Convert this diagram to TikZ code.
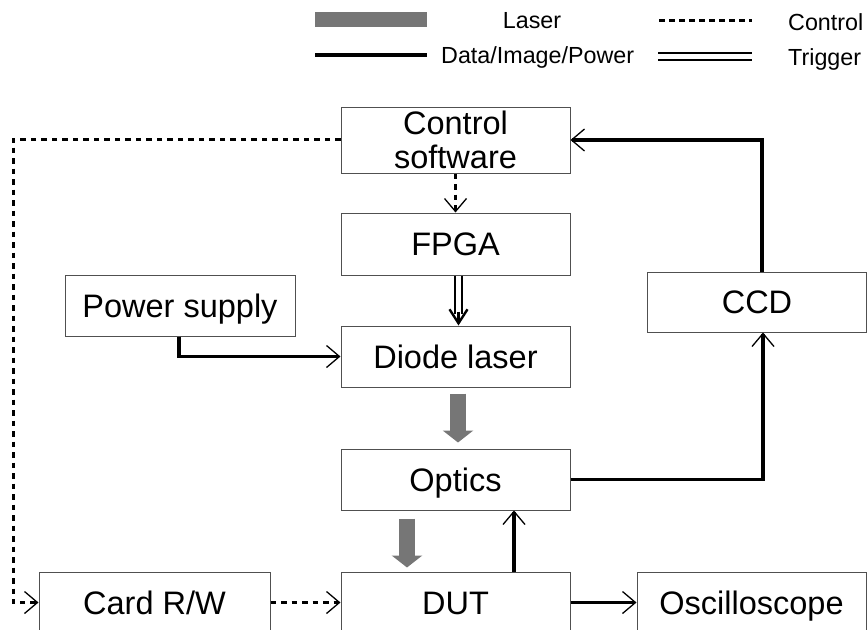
\documentclass[tikz,border=0pt]{standalone}
\usepackage{fontspec}
\setmainfont{Liberation Sans}
\usetikzlibrary{arrows.meta,calc}
\definecolor{lasergray}{HTML}{767676}
\definecolor{boxgray}{HTML}{505050}
\tikzset{
  blk/.style={draw=boxgray, line width=1pt, minimum height=61pt, inner sep=0pt,
    font=\fontsize{32.5}{34}\selectfont, align=center},
  oneline/.style={text height=23.5pt, text depth=0pt},
  openarr/.style={-{Straight Barb[length=13pt,width=22pt,line width=1.3pt]}},
  dataln/.style={line width=3.2pt, openarr},
  ctrlln/.style={line width=3pt, dash pattern=on 5.5pt off 5pt, openarr},
  laser/.style={line width=16pt, lasergray, -{Triangle[length=12pt,width=30pt]}},
  legtxt/.style={font=\fontsize{23.3}{25}\selectfont, inner sep=0pt, text height=16.7pt, text depth=0pt}
}
\begin{document}
\begin{tikzpicture}[x=1pt,y=-1pt]
\useasboundingbox (0,0) rectangle (867,629);
% legend
\fill[lasergray] (315,12) rectangle (427,27);
\node[legtxt] (lgl) at (532,20) {Laser};
\draw[line width=3.2pt] (315,55) -- (427,55);
\node[legtxt, anchor=west] (lgd) at (441,55.5) {Data/Image/Power};
\draw[line width=3pt, dash pattern=on 5.5pt off 4.5pt] (659,20) -- (752,20);
\node[legtxt, anchor=west] (lgc) at (788,22) {Control};
\draw[line width=2.8pt] (658,53) -- (752,53);
\draw[line width=2.8pt] (658,60) -- (752,60);
\node[legtxt, anchor=west] (lgt) at (788,57) {Trigger};
% boxes
\node[blk, minimum width=229pt, minimum height=66pt] (ctrl) at (455.5,140) {Control\\software};
\node[blk, oneline, minimum width=229pt, minimum height=62pt] (fpga) at (455.5,244) {FPGA};
\node[blk, oneline, minimum width=229pt] (diode) at (455.5,356.5) {Diode laser};
\node[blk, oneline, minimum width=229pt] (optics) at (455.5,479.5) {Optics};
\node[blk, oneline, minimum width=229pt] (dut) at (455.5,602.5) {DUT};
\node[blk, oneline, minimum width=231pt] (card) at (154.5,602.5) {Card R/W};
\node[blk, oneline, minimum width=229pt] (osc) at (751.5,602.5) {Oscilloscope};
\node[blk, oneline, minimum width=230pt] (power) at (180,305.5) {Power supply};
\node[blk, oneline, minimum width=219pt, minimum height=60pt] (ccd) at (757,302) {CCD};
\coordinate (lft) at (13,139);
% connectors
\draw[ctrlln] (ctrl.west |- lft) -- (lft) |- (card.west);
\draw[ctrlln] (ctrl.south) -- (fpga.north);
\draw[line width=2.4pt] ($(fpga.south)+(-0.5,0)$) -- ($(diode.north)+(-0.5,-12)$);
\draw[line width=2.4pt] ($(fpga.south)+(6.5,0)$) -- ($(diode.north)+(6.5,-12)$);
\draw[line width=2.4pt, -{Straight Barb[length=14pt,width=18pt,line width=2.4pt]}] ($(diode.north)+(3,-14)$) -- ($(diode.north)+(3,0)$);
\draw[dataln] ($(power.south)+(-1,0)$) |- (diode.west);
\draw[laser] ($(diode.south)+(2.5,6)$) -- ($(optics.north)+(2.5,-6)$);
\draw[dataln] (optics.east) -| ($(ccd.south)+(6,0)$);
\draw[dataln] ($(ccd.north)+(5,0)$) |- (ctrl.east);
\draw[laser] ($(optics.south)+(-48.5,8)$) -- ($(dut.north)+(-48.5,-4)$);
\draw[dataln] ($(dut.north)+(58.5,0)$) -- ($(optics.south)+(58.5,0)$);
\draw[ctrlln] (card.east) -- (dut.west);
\draw[dataln] (dut.east) -- (osc.west);
\end{tikzpicture}
\end{document}
